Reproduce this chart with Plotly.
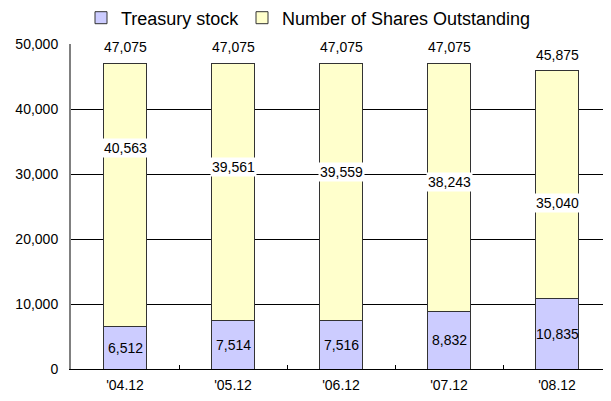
import plotly.graph_objects as go

categories = ["'04.12", "'05.12", "'06.12", "'07.12", "'08.12"]
treasury = [6512, 7514, 7516, 8832, 10835]
outstanding = [40563, 39561, 39559, 38243, 35040]
totals = [47075, 47075, 47075, 47075, 45875]
y_ticks = [0, 10000, 20000, 30000, 40000, 50000]

# label placement for the outstanding-share labels (data units)
outstanding_label_pos = [33985, 31150, 30380, 28840, 25520]

FONT = "Liberation Sans, Arial, sans-serif"
W, H = 603, 393  # page body has an 8px margin

fig = go.Figure()
fig.add_trace(go.Bar(
    name="Treasury stock", x=categories, y=treasury,
    marker=dict(color="#CCCCFF", line=dict(color="#333333", width=1)),
    width=0.4, legend="legend",
))
fig.add_trace(go.Bar(
    name="Number of Shares Outstanding", x=categories, y=outstanding,
    marker=dict(color="#FFFFCC", line=dict(color="#333333", width=1)),
    width=0.4, legend="legend2",
))

for c, v in zip(categories, treasury):
    fig.add_annotation(x=c, y=v / 2, text=f"{v:,}", showarrow=False,
                       font=dict(family=FONT, size=14, color="black"))
for c, v, p in zip(categories, outstanding, outstanding_label_pos):
    fig.add_annotation(x=c, y=p, text=f"{v:,}", showarrow=False,
                       bgcolor="white", borderpad=1,
                       font=dict(family=FONT, size=14, color="black"))
for c, t in zip(categories, totals):
    fig.add_annotation(x=c, y=t, text=f"{t:,}", showarrow=False,
                       yanchor="bottom", yshift=6,
                       font=dict(family=FONT, size=14, color="black"))

leg_common = dict(orientation="h", yanchor="middle", xanchor="left",
                  xref="container", yref="container", y=1 - 10 / H,
                  font=dict(family=FONT, size=18, color="black"),
                  itemclick=False, itemdoubleclick=False, bgcolor="rgba(0,0,0,0)")

fig.update_layout(
    barmode="stack",
    width=W, height=H,
    margin=dict(l=63, r=0, t=36, b=32, autoexpand=False),
    paper_bgcolor="white", plot_bgcolor="white",
    font=dict(family=FONT, size=14, color="black"),
    showlegend=True,
    legend=dict(x=73 / W, **leg_common),
    legend2=dict(x=234 / W, **leg_common),
    yaxis=dict(range=[0, 50000], tickvals=y_ticks, tickformat=",",
               showgrid=True, gridcolor="black", gridwidth=1,
               showline=True, linecolor="#808080", linewidth=2,
               ticks="inside", ticklen=5, tickcolor="black",
               zeroline=False, ticklabelstandoff=8,
               tickfont=dict(family=FONT, size=14, color="black")),
    xaxis=dict(showline=True, linecolor="black", linewidth=1,
               ticks="inside", tickson="boundaries", ticklen=4, tickcolor="black",
               showgrid=False, ticklabelstandoff=3,
               tickfont=dict(family=FONT, size=14, color="black")),
)

fig.write_html("out.html")
